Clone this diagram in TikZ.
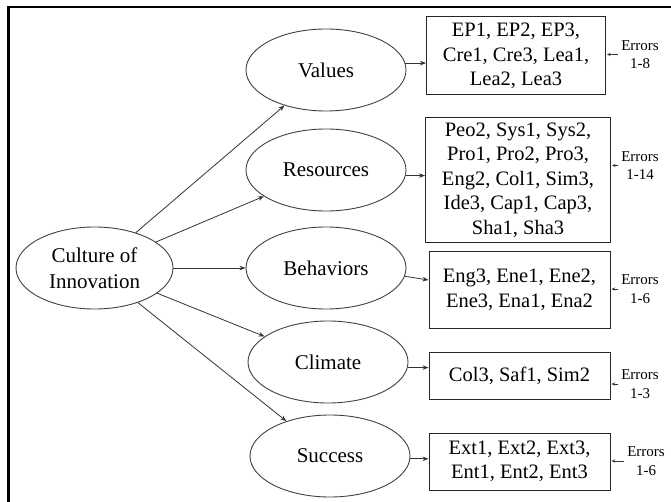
\documentclass[tikz,border=0pt]{standalone}
\usepackage{fontspec}
\setmainfont{Liberation Serif}
\usetikzlibrary{shapes.geometric,arrows.meta,calc}
\begin{document}
\begin{tikzpicture}[x=1pt,y=-1pt,
  latent/.style={ellipse,draw=black!75,line width=0.9pt,minimum width=160pt,
    minimum height=82pt,inner sep=0pt,align=center,
    font=\fontsize{21}{25.5}\selectfont},
  itembox/.style={rectangle,draw=black!85,line width=1pt,inner sep=0pt,
    align=center,font=\fontsize{20.5}{24.5}\selectfont},
  errlabel/.style={inner sep=0pt,align=center,font=\fontsize{15}{18.5}\selectfont},
  link/.style={draw=black!80,line width=0.8pt,-{Stealth[length=6pt,width=4.5pt]}},
  errlink/.style={draw=black!80,line width=0.6pt,-{Stealth[length=3.5pt,width=3pt]}}
]
\useasboundingbox (0,0) rectangle (671,502);

% outer frame (runs past the right and bottom page edges)
\draw[line width=2.4pt] (8.5,512) -- (8.5,7.2) -- (680,7.2);

% second-order factor
\node[latent,minimum width=157pt] (culture) at (94.5,268) {Culture of\\Innovation};

% first-order factors
\node[latent] (values)    at (326,70)  {Values};
\node[latent] (resources) at (326,170) {Resources};
\node[latent] (behaviors) at (326,268) {Behaviors};
\node[latent] (climate)   at (328,362) {Climate};
\node[latent] (success)   at (330,456) {Success};

% indicator boxes
\node[itembox,minimum width=179pt,minimum height=78pt] (vbox) at (516,56)
  {EP1, EP2, EP3,\\Cre1, Cre3, Lea1,\\Lea2, Lea3};
\node[itembox,minimum width=185pt,minimum height=125pt] (rbox) at (518,180)
  {Peo2, Sys1, Sys2,\\Pro1, Pro2, Pro3,\\Eng2, Col1, Sim3,\\Ide3, Cap1, Cap3,\\Sha1, Sha3};
\node[itembox,minimum width=181pt,minimum height=76pt] (bbox) at (519.5,290)
  {Eng3, Ene1, Ene2,\\Ene3, Ena1, Ena2};
\node[itembox,minimum width=181pt,minimum height=47pt] (cbox) at (519.5,375.5)
  {Col3, Saf1, Sim2};
\node[itembox,minimum width=181pt,minimum height=57pt] (sbox) at (519.5,461.5)
  {Ext1, Ext2, Ext3,\\Ent1, Ent2, Ent3};

% error terms
\node[errlabel] (e1) at (640,54.5)  {Errors\\1-8};
\node[errlabel] (e2) at (640,165.5) {Errors\\1-14};
\node[errlabel] (e3) at (640,289)   {Errors\\1-6};
\node[errlabel] (e4) at (640,384)   {Errors\\1-3};
\node[errlabel] (e5) at (646,461)   {Errors\\1-6};

% paths from the second-order factor
\foreach \f in {values,resources,behaviors,climate,success}
  \draw[link] (culture) -- (\f);

% factor to indicator paths
\draw[link] (values.5)     -- (values.5 -| vbox.west);
\draw[link] (resources.-4) -- (resources.-4 -| rbox.west);
\draw[link] (behaviors.-6) -- ([yshift=10pt]bbox.west);
\draw[link] (climate.-4)   -- (climate.-4 -| cbox.west);
\draw[link] (success.-2)   -- (success.-2 -| sbox.west);

% error arrows
\foreach \e/\b in {e1/vbox,e2/rbox,e3/bbox,e4/cbox,e5/sbox}{
  \path ([xshift=-3pt]\e.west) coordinate (t\e);
  \draw[errlink,shorten >=1pt] (t\e) -- (t\e -| \b.east);
}
\end{tikzpicture}
\end{document}
